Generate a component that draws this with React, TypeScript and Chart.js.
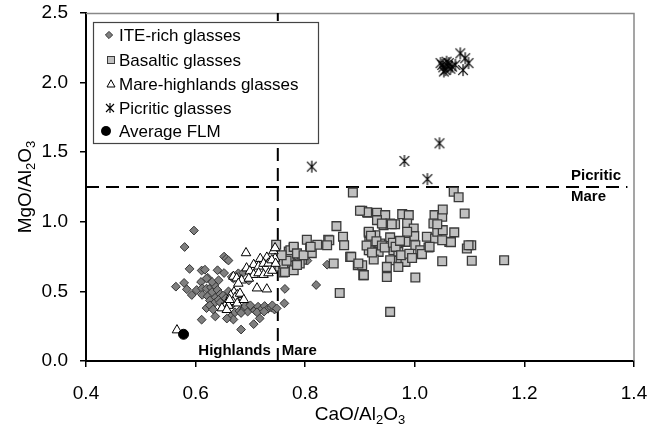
import React, { useEffect, useRef } from 'react';
import { Chart, registerables } from 'chart.js';

Chart.register(...registerables);

const FONT = '"Liberation Sans", Arial, Helvetica, sans-serif';

// CaO/Al2O3 , MgO/Al2O3
const iteRich: [number, number][] = [
  [0.597, 0.937], [0.580, 0.819], [0.589, 0.662], [0.564, 0.534], [0.579, 0.561], [0.584, 0.515],
  [0.593, 0.474], [0.611, 0.297], [0.636, 0.320], [0.683, 0.226], [0.706, 0.265], [0.717, 0.306],
  [0.763, 0.518], [0.762, 0.414], [0.820, 0.546], [0.840, 0.692], [0.804, 0.721], [0.652, 0.750],
  [0.656, 0.735], [0.660, 0.722], [0.611, 0.650], [0.617, 0.656], [0.622, 0.598], [0.610, 0.568],
  [0.640, 0.652], [0.652, 0.632], [0.669, 0.593], [0.678, 0.630], [0.687, 0.634], [0.697, 0.578],
  [0.602, 0.510], [0.612, 0.522], [0.620, 0.520], [0.628, 0.530], [0.634, 0.545], [0.612, 0.475],
  [0.622, 0.465], [0.630, 0.495], [0.636, 0.455], [0.640, 0.510], [0.645, 0.480], [0.626, 0.435],
  [0.634, 0.415], [0.642, 0.440], [0.650, 0.470], [0.655, 0.450], [0.660, 0.500], [0.620, 0.380],
  [0.626, 0.400], [0.632, 0.370], [0.645, 0.420], [0.665, 0.440], [0.668, 0.410], [0.655, 0.385],
  [0.664, 0.318], [0.669, 0.298], [0.672, 0.350], [0.680, 0.360], [0.688, 0.370], [0.695, 0.355],
  [0.702, 0.385], [0.708, 0.365], [0.714, 0.390], [0.720, 0.370], [0.726, 0.395], [0.732, 0.375],
  [0.738, 0.385], [0.744, 0.370], [0.690, 0.395], [0.700, 0.400], [0.712, 0.350], [0.725, 0.355],
  [0.740, 0.400], [0.683, 0.345], [0.748, 0.378], [0.630, 0.568], [0.642, 0.580], [0.620, 0.593],
  [0.657, 0.305], [0.666, 0.604],
];

const basaltic: [number, number][] = [
  [0.747, 0.835], [0.753, 0.679], [0.760, 0.636], [0.770, 0.787], [0.779, 0.811], [0.781, 0.764],
  [0.776, 0.703], [0.788, 0.751], [0.794, 0.727], [0.803, 0.871], [0.809, 0.811], [0.812, 0.775],
  [0.822, 0.835], [0.842, 0.871], [0.763, 0.640], [0.760, 0.700], [0.770, 0.748], [0.773, 0.796],
  [0.779, 0.820], [0.779, 0.652], [0.785, 0.773], [0.766, 0.720], [0.757, 0.760], [0.790, 0.700],
  [0.797, 0.760], [0.785, 0.690], [0.810, 0.820], [0.887, 1.211], [0.904, 1.079], [0.914, 1.065],
  [0.931, 1.065], [0.946, 1.048], [0.931, 1.012], [0.943, 0.976], [0.955, 0.988], [0.964, 0.983],
  [0.857, 0.969], [0.844, 0.868], [0.840, 0.832], [0.869, 0.892], [0.871, 0.832], [0.916, 0.921],
  [0.928, 0.904], [0.917, 0.856], [0.937, 0.844], [0.919, 0.796], [0.934, 0.784], [0.925, 0.729],
  [0.955, 0.888], [0.961, 0.796], [0.970, 0.784], [0.974, 0.724], [0.983, 0.712], [0.955, 0.724],
  [0.949, 0.676], [0.949, 0.604], [0.970, 0.676], [1.001, 0.600], [0.906, 0.617], [0.896, 0.688],
  [0.904, 0.688], [0.882, 0.748], [0.863, 0.489], [0.955, 0.353], [0.852, 0.700], [0.977, 1.055],
  [0.989, 1.048], [0.986, 0.988], [0.998, 0.952], [0.999, 0.897], [0.986, 0.928], [0.983, 0.856],
  [1.001, 0.832], [1.022, 0.892], [1.010, 0.796], [1.025, 0.816], [1.037, 0.880], [1.041, 0.928],
  [1.051, 0.940], [1.036, 1.048], [1.050, 1.036], [1.034, 0.988], [1.051, 1.089], [1.071, 1.216],
  [1.080, 1.176], [1.091, 1.060], [1.072, 0.924], [1.063, 0.856], [1.050, 0.717], [1.095, 0.808],
  [1.103, 0.832], [1.104, 0.720], [1.050, 0.868], [1.163, 0.724], [0.916, 0.928], [0.916, 0.796],
  [0.884, 0.748], [0.907, 0.617], [0.897, 0.700], [0.920, 0.900], [0.930, 0.860], [0.940, 0.830],
  [0.945, 0.815], [0.912, 0.830], [0.922, 0.780], [0.960, 0.850], [0.965, 0.820], [0.975, 0.760],
  [0.990, 0.770], [0.995, 0.740], [1.013, 0.768], [1.027, 0.820], [1.041, 0.983], [0.913, 1.068],
  [0.900, 1.079], [0.940, 0.988], [0.958, 0.983], [0.973, 0.863], [1.066, 0.854], [1.098, 0.832],
];

const mareHighlands: [number, number][] = [
  [0.566, 0.222], [0.692, 0.776], [0.718, 0.735], [0.730, 0.744], [0.742, 0.790], [0.745, 0.812],
  [0.745, 0.737], [0.706, 0.692], [0.715, 0.680], [0.724, 0.700], [0.733, 0.702], [0.739, 0.725],
  [0.693, 0.667], [0.699, 0.645], [0.706, 0.620], [0.715, 0.632], [0.724, 0.620], [0.733, 0.632],
  [0.740, 0.650], [0.746, 0.700], [0.669, 0.607], [0.675, 0.595], [0.684, 0.580], [0.697, 0.593],
  [0.678, 0.557], [0.712, 0.523], [0.730, 0.516], [0.670, 0.495], [0.676, 0.475], [0.664, 0.470],
  [0.672, 0.455], [0.681, 0.485], [0.668, 0.425], [0.676, 0.415], [0.655, 0.405], [0.660, 0.398],
  [0.648, 0.380], [0.657, 0.368], [0.688, 0.440], [0.662, 0.440],
];

const picritic: [number, number][] = [
  [0.812, 1.396], [0.981, 1.437], [1.045, 1.564], [1.023, 1.307], [1.047, 2.140], [1.050, 2.127],
  [1.053, 2.080], [1.056, 2.090], [1.058, 2.150], [1.062, 2.140], [1.065, 2.100], [1.068, 2.115],
  [1.074, 2.127], [1.083, 2.210], [1.088, 2.090], [1.092, 2.175], [1.098, 2.140], [1.060, 2.120],
  [1.052, 2.110],
];

const averageFLM: [number, number][] = [[0.578, 0.192]];

const xTicksRange = [0.4, 1.4, 0.2];
const yTicksRange = [0, 2.5, 0.5];
const boundaryX = 0.75; // Highlands | Mare
const boundaryY = 1.25; // Picritic / Mare

const seriesNames = ['ITE-rich glasses', 'Basaltic glasses', 'Mare-highlands glasses', 'Picritic glasses', 'Average FLM'];

const toPts = (a: [number, number][]) => a.map(([x, y]) => ({ x, y }));

function makeStar(size: number, arm: number, diag: number, lw: number) {
  const c = document.createElement('canvas');
  c.width = size;
  c.height = size;
  const g = c.getContext('2d')!;
  g.strokeStyle = '#000';
  g.lineWidth = lw;
  const m = size / 2;
  g.beginPath();
  g.moveTo(m - diag, m - diag); g.lineTo(m + diag, m + diag);
  g.moveTo(m + diag, m - diag); g.lineTo(m - diag, m + diag);
  g.moveTo(m, m - arm); g.lineTo(m, m + arm);
  g.stroke();
  return c;
}

function drawFormula(ctx: CanvasRenderingContext2D, parts: [string, boolean][], cx: number, cy: number, size: number) {
  const main = `${size}px ${FONT}`;
  const sub = `${Math.round(size * 0.68)}px ${FONT}`;
  let w = 0;
  for (const [t, s] of parts) { ctx.font = s ? sub : main; w += ctx.measureText(t).width; }
  let x = cx - w / 2;
  const by = cy + size * 0.36;
  ctx.textAlign = 'left';
  ctx.textBaseline = 'alphabetic';
  ctx.fillStyle = '#000';
  for (const [t, s] of parts) {
    ctx.font = s ? sub : main;
    ctx.fillText(t, x, s ? by + size * 0.2 : by);
    x += ctx.measureText(t).width;
  }
}

export default function App() {
  const ref = useRef<HTMLCanvasElement | null>(null);

  useEffect(() => {
    if (!ref.current) return;
    const star = makeStar(14, 6, 4.8, 1.2);
    const legendStar = makeStar(12, 5, 4, 1.1);

    const overlay = {
      id: 'overlay',
      beforeDatasetsDraw(chart: any) {
        const { ctx, chartArea: a } = chart;
        ctx.save();
        ctx.strokeStyle = '#888';
        ctx.lineWidth = 1.5;
        ctx.beginPath();
        ctx.moveTo(a.left, a.top + 0.5);
        ctx.lineTo(a.right, a.top + 0.5);
        ctx.lineTo(a.right, a.bottom);
        ctx.stroke();
        ctx.restore();
      },
      afterDraw(chart: any) {
        const { ctx, chartArea: a, scales } = chart;
        const xs = scales.x, ys = scales.y;
        ctx.save();
        // region labels
        ctx.fillStyle = '#000';
        ctx.font = `bold 15px ${FONT}`;
        ctx.textBaseline = 'middle';
        const bx = xs.getPixelForValue(boundaryX);
        const by = ys.getPixelForValue(boundaryY);
        ctx.textAlign = 'right';
        ctx.fillText('Highlands', bx - 7, a.bottom - 10);
        ctx.textAlign = 'left';
        ctx.fillText('Mare', bx + 4, a.bottom - 10);
        ctx.fillText('Picritic', a.right - 63, by - 11);
        ctx.fillText('Mare', a.right - 63, by + 10);

        // axis titles
        drawFormula(ctx, [['CaO/Al', false], ['2', true], ['O', false], ['3', true]], (a.left + a.right) / 2, 413, 19);
        ctx.save();
        ctx.translate(24, (a.top + a.bottom) / 2);
        ctx.rotate(-Math.PI / 2);
        drawFormula(ctx, [['MgO/Al', false], ['2', true], ['O', false], ['3', true]], 0, 0, 19);
        ctx.restore();

        // legend
        ctx.fillStyle = '#fff';
        ctx.fillRect(93.5, 22.5, 225, 121);
        ctx.strokeStyle = '#444';
        ctx.lineWidth = 1.2;
        ctx.strokeRect(93.5, 22.5, 225, 121);
        const rows = [35, 60, 84, 108, 131];
        ctx.font = `17px ${FONT}`;
        ctx.fillStyle = '#000';
        ctx.textAlign = 'left';
        ctx.textBaseline = 'middle';
        seriesNames.forEach((n, i) => ctx.fillText(n, 119, rows[i] + 1));
        // markers
        ctx.lineWidth = 1;
        ctx.fillStyle = '#7f7f7f'; ctx.strokeStyle = '#333';
        ctx.beginPath();
        ctx.moveTo(109, rows[0] - 3.6); ctx.lineTo(112.6, rows[0]); ctx.lineTo(109, rows[0] + 3.6); ctx.lineTo(105.4, rows[0]);
        ctx.closePath(); ctx.fill(); ctx.stroke();
        ctx.fillStyle = '#c0c0c0'; ctx.strokeStyle = '#3a3a3a';
        ctx.fillRect(107.5, rows[1] - 3.5, 7, 7); ctx.strokeRect(107.5, rows[1] - 3.5, 7, 7);
        ctx.fillStyle = '#fff'; ctx.strokeStyle = '#000';
        ctx.beginPath();
        ctx.moveTo(111, rows[2] - 4.2); ctx.lineTo(115, rows[2] + 3); ctx.lineTo(107, rows[2] + 3);
        ctx.closePath(); ctx.fill(); ctx.stroke();
        ctx.drawImage(legendStar, 110 - 6, rows[3] - 6);
        ctx.fillStyle = '#000';
        ctx.beginPath(); ctx.arc(106, rows[4], 5, 0, Math.PI * 2); ctx.fill();
        ctx.restore();
      },
    };

    const dashed = {
      type: 'scatter' as const,
      showLine: true,
      borderColor: '#000',
      borderWidth: 2,
      borderDash: [13, 7],
      pointRadius: 0,
      order: 10,
    };

    const chart = new Chart(ref.current, {
      type: 'scatter',
      data: {
        datasets: [
          { ...dashed, label: 'v', data: [{ x: boundaryX, y: yTicksRange[0] }, { x: boundaryX, y: yTicksRange[1] }] },
          { ...dashed, label: 'h', data: [{ x: xTicksRange[0], y: boundaryY }, { x: 1.388, y: boundaryY }] },
          {
            label: seriesNames[0], data: toPts(iteRich), pointStyle: 'rectRot', pointRadius: 4.4,
            pointBackgroundColor: '#7f7f7f', pointBorderColor: '#333', pointBorderWidth: 1, order: 5,
          },
          {
            label: seriesNames[1], data: toPts(basaltic), pointStyle: 'rect', pointRadius: 6.2,
            pointBackgroundColor: '#c0c0c0', pointBorderColor: '#3a3a3a', pointBorderWidth: 1.3, order: 4,
          },
          {
            label: seriesNames[2], data: toPts(mareHighlands), pointStyle: 'triangle', pointRadius: 5.5,
            pointBackgroundColor: '#fff', pointBorderColor: '#000', pointBorderWidth: 1, order: 3,
          },
          {
            label: seriesNames[3], data: toPts(picritic), pointStyle: star as any, pointRadius: 6, order: 2,
          },
          {
            label: seriesNames[4], data: toPts(averageFLM), pointStyle: 'circle', pointRadius: 5,
            pointBackgroundColor: '#000', pointBorderColor: '#000', pointBorderWidth: 1, order: 1,
          },
        ] as any,
      },
      options: {
        animation: false,
        responsive: false,
        events: [],
        layout: { padding: { top: 13, right: 25, left: 0, bottom: 0 } },
        plugins: { legend: { display: false }, tooltip: { enabled: false } },
        scales: {
          x: {
            type: 'linear', min: xTicksRange[0], max: xTicksRange[1],
            ticks: { stepSize: xTicksRange[2], padding: 15, color: '#000', font: { family: FONT, size: 19 }, callback: (v: any) => Number(v).toFixed(1) },
            grid: { drawOnChartArea: false, drawTicks: true, tickLength: 6, color: '#000', lineWidth: 1.5 },
            border: { display: true, color: '#000', width: 2 },
            afterFit: (s: any) => { s.height = 65; s.paddingLeft = 0; s.paddingRight = 0; },
          },
          y: {
            type: 'linear', min: yTicksRange[0], max: yTicksRange[1],
            ticks: { stepSize: yTicksRange[2], padding: 12, color: '#000', font: { family: FONT, size: 19 }, callback: (v: any) => Number(v).toFixed(1) },
            grid: { drawOnChartArea: false, drawTicks: true, tickLength: 6, color: '#000', lineWidth: 1.5 },
            border: { display: true, color: '#000', width: 2 },
            afterFit: (s: any) => { s.width = 86; s.paddingTop = 0; s.paddingBottom = 0; },
          },
        },
      } as any,
      plugins: [overlay],
    });
    return () => chart.destroy();
  }, []);

  return (
    <div style={{ position: 'fixed', left: 0, top: 0, width: 659, height: 426, background: '#fff' }}>
      <canvas ref={ref} width={659} height={426} style={{ display: 'block' }} />
    </div>
  );
}
